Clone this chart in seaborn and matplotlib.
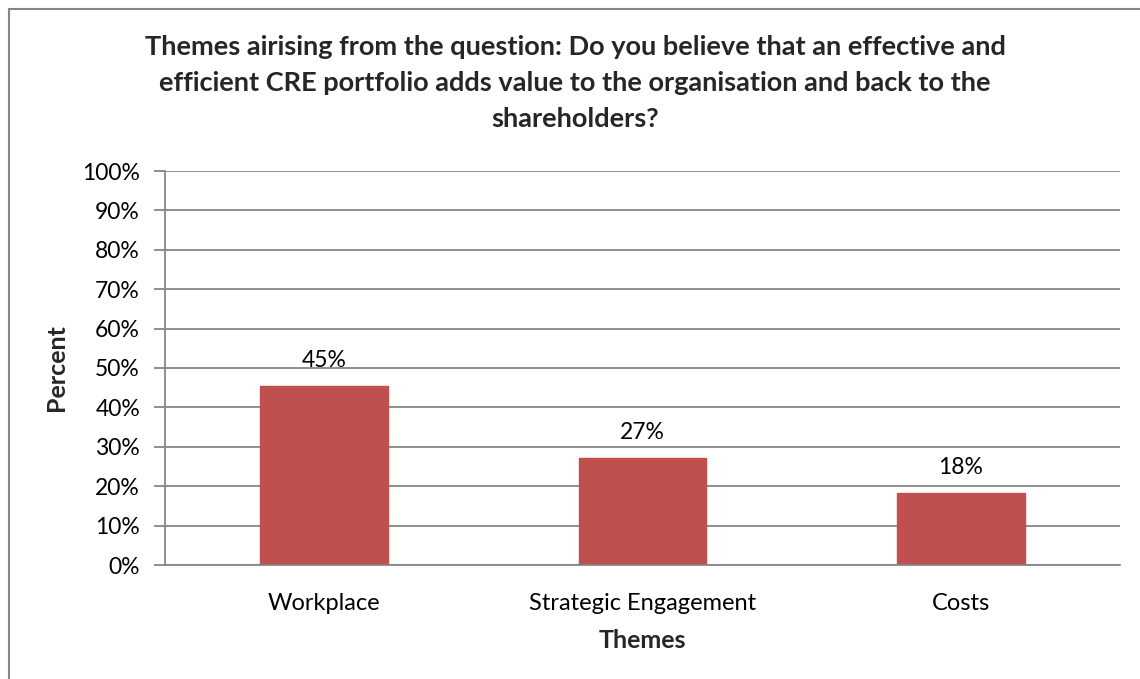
import matplotlib
matplotlib.use("Agg")
import matplotlib.pyplot as plt
import seaborn as sns
import pandas as pd
from matplotlib.lines import Line2D
from matplotlib.ticker import PercentFormatter

categories = ["Workplace", "Strategic Engagement", "Costs"]
values = [45.45, 27.27, 18.18]
labels = ["45%", "27%", "18%"]
yticks = [0, 10, 20, 30, 40, 50, 60, 70, 80, 90, 100]

sns.set_theme(style="white")
plt.rcParams["font.family"] = ["Lato", "DejaVu Sans"]

W, H = 1140, 679
fig = plt.figure(figsize=(W / 100, H / 100), dpi=100)
ax = fig.add_axes([165 / W, 1 - 565 / H, (1120 - 165) / W, (565 - 171) / H])

df = pd.DataFrame({"Theme": categories, "Percent": values})
sns.barplot(data=df, x="Theme", y="Percent", color="#C0504D", saturation=1,
            width=0.4, ax=ax, edgecolor="#C0504D")

ax.set_ylim(0, 100)
ax.set_xlim(-0.5, 2.5)
ax.set_yticks(yticks)
ax.yaxis.set_major_formatter(PercentFormatter(decimals=0))
ax.yaxis.grid(True, color="#868686", linewidth=1.3)
ax.set_axisbelow(True)
for s in ["top", "right"]:
    ax.spines[s].set_visible(False)
ax.spines["left"].set_color("#868686")
ax.spines["bottom"].set_color("#868686")
ax.spines["left"].set_linewidth(1.3)
ax.spines["bottom"].set_linewidth(1.3)
ax.tick_params(axis="y", which="major", left=True, length=8, width=1.3, color="#868686",
               labelsize=16.5, pad=10, labelcolor="black")
ax.tick_params(axis="x", bottom=False, labelsize=17, pad=14, labelcolor="black")

for p, lab in zip(ax.patches, labels):
    ax.text(p.get_x() + p.get_width() / 2, p.get_height() + 3.8, lab,
            ha="center", va="bottom", fontsize=16.5, color="black")

ax.set_xlabel("Themes", fontsize=18, fontweight="bold", labelpad=11)
ax.set_ylabel("Percent", fontsize=18, fontweight="bold", labelpad=10)

fig.text(575 / W, 1 - 83 / H,
         "Themes airising from the question: Do you believe that an effective and\n"
         "efficient CRE portfolio adds value to the organisation and back to the\n"
         "shareholders?",
         ha="center", va="center", fontsize=19.5, fontweight="bold", linespacing=1.6)

fig.add_artist(Line2D([8.5 / W, 8.5 / W], [0, 1 - 9 / H], transform=fig.transFigure,
                      color="#868686", linewidth=1.5))
fig.add_artist(Line2D([8.5 / W, 1], [1 - 9 / H, 1 - 9 / H], transform=fig.transFigure,
                      color="#868686", linewidth=1.5))

fig.savefig("out.png", dpi=100)
